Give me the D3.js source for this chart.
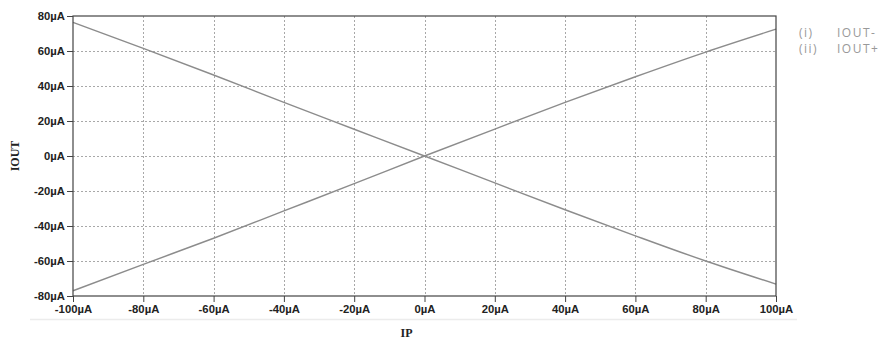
<!DOCTYPE html>
<html>
<head>
<meta charset="utf-8">
<script src="https://cdn.jsdelivr.net/npm/d3@7"></script>
<style>
  body { margin: 0; background: #fff; }
  svg { display: block; }
</style>
</head>
<body>
<div id="chart"></div>
<script>
// data (µA)
const ipValues = [-100, -80, -60, -40, -20, 0, 20, 40, 60, 80, 100];
const ioutMinus = [76.4, 61.5, 46.3, 30.6, 15.3, 0, -15.4, -30.7, -45.6, -60.0, -73.2];
const ioutPlus = [-77, -61.9, -47.0, -31.4, -15.8, 0, 15.4, 30.6, 45.3, 59.4, 72.5];
const xTicks = [-100, -80, -60, -40, -20, 0, 20, 40, 60, 80, 100];
const yTicks = [-80, -60, -40, -20, 0, 20, 40, 60, 80];
const legendItems = [["(i)", "IOUT-"], ["(ii)", "IOUT+"]];

const width = 890, height = 343;
const margin = { left: 73, right: 114, top: 16, bottom: 47 };

const svg = d3.select("#chart").append("svg")
    .attr("width", width)
    .attr("height", height);

const x = d3.scaleLinear().domain([-100, 100]).range([margin.left, width - margin.right]);
const y = d3.scaleLinear().domain([-80, 80]).range([height - margin.bottom, margin.top]);

// faint rule under the x labels
svg.append("line")
    .attr("x1", 30).attr("x2", 797)
    .attr("y1", 319.5).attr("y2", 319.5)
    .attr("stroke", "#ececec")
    .attr("stroke-width", 1.5);

// grid
const grid = svg.append("g");
grid.selectAll("line.vx")
  .data(xTicks.slice(1, -1))
  .enter().append("line")
    .attr("x1", d => Math.round(x(d)) + 0.5).attr("x2", d => Math.round(x(d)) + 0.5)
    .attr("y1", y(80)).attr("y2", y(-80))
    .attr("stroke", "#a8a8a8")
    .attr("stroke-dasharray", "2,2");
grid.selectAll("line.hy")
  .data(yTicks.slice(1, -1))
  .enter().append("line")
    .attr("y1", d => Math.round(y(d)) + 0.5).attr("y2", d => Math.round(y(d)) + 0.5)
    .attr("x1", x(-100)).attr("x2", x(100))
    .attr("stroke", "#a8a8a8")
    .attr("stroke-dasharray", "2,2");

// curves
const line = d3.line()
    .x((d, i) => x(ipValues[i]))
    .y(d => y(d))
    .curve(d3.curveMonotoneX);

[ioutMinus, ioutPlus].forEach(s => {
  svg.append("path")
    .datum(s)
    .attr("d", line)
    .attr("fill", "none")
    .attr("stroke", "#8c8c8c")
    .attr("stroke-width", 1.4);
});

// frame
svg.append("rect")
    .attr("x", x(-100)).attr("y", y(80))
    .attr("width", x(100) - x(-100))
    .attr("height", y(-80) - y(80))
    .attr("fill", "none")
    .attr("stroke", "#444")
    .attr("stroke-width", 1.2);

const fmt = d => d + "µA";

const xAxis = svg.append("g")
    .attr("transform", `translate(0,${y(-80)})`)
    .call(d3.axisBottom(x).tickValues(xTicks).tickFormat(fmt).tickSize(6).tickPadding(3));
const yAxis = svg.append("g")
    .attr("transform", `translate(${x(-100)},0)`)
    .call(d3.axisLeft(y).tickValues(yTicks).tickFormat(fmt).tickSize(6).tickPadding(2));

[xAxis, yAxis].forEach(a => {
  a.select(".domain").remove();
  a.selectAll(".tick line").attr("stroke", "#444");
  a.selectAll(".tick text")
    .attr("fill", "#222")
    .style("font-family", "'Liberation Sans', Arial, sans-serif")
    .style("font-weight", "bold")
    .style("font-size", "11.3px");
});

// axis titles
svg.append("text")
    .attr("x", x(0) - 18).attr("y", 337)
    .attr("text-anchor", "middle")
    .style("font-family", "'Liberation Serif', 'Times New Roman', serif")
    .style("font-weight", "bold")
    .style("font-size", "12px")
    .attr("fill", "#222")
    .text("IP");

svg.append("text")
    .attr("transform", `translate(19,${y(0)}) rotate(-90)`)
    .attr("text-anchor", "middle")
    .style("font-family", "'Liberation Serif', 'Times New Roman', serif")
    .style("font-weight", "bold")
    .style("font-size", "12px")
    .attr("fill", "#222")
    .text("IOUT");

// legend
const legend = svg.append("g")
    .style("font-family", "'Open Sans', 'Noto Sans', sans-serif")
    .style("font-size", "12px")
    .style("letter-spacing", "1.5px")
    .attr("fill", "#999");
legendItems.forEach((d, i) => {
  legend.append("text").attr("x", 799).attr("y", 36.5 + i * 16.5).text(d[0]);
  legend.append("text").attr("x", 837).attr("y", 36.5 + i * 16.5).text(d[1]);
});
</script>
</body>
</html>
